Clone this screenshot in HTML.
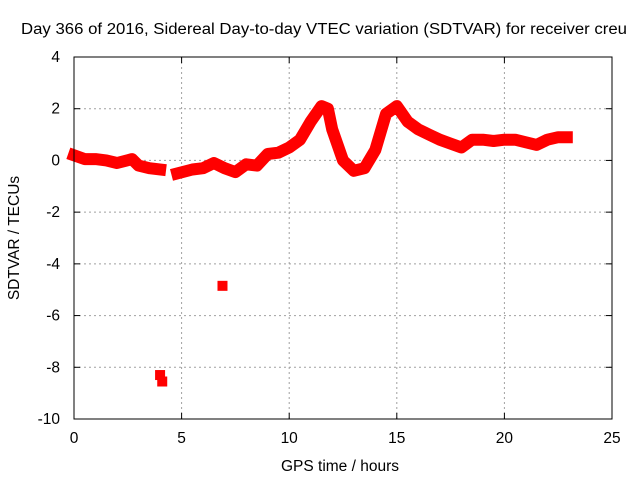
<!DOCTYPE html>
<html><head><meta charset="utf-8"><style>
body{margin:0;background:#fff}
svg{font-family:"Liberation Sans",sans-serif;font-size:15.5px}
</style></head><body>
<svg id="c" width="640" height="480"></svg>
<script>
const xTicks=[0,5,10,15,20,25];
const yTicks=[4,2,0,-2,-4,-6,-8,-10];
const seg1Hours=[0,0.5,1,1.5,2,2.7,3,3.5,4];
const seg1Vals=[0.2,0.05,0.05,0.0,-0.1,0.05,-0.2,-0.3,-0.35];
const seg2Hours=[4.8,5.5,6,6.5,7,7.5,8,8.5,9,9.5,10,10.5,11,11.5,11.8,12,12.5,13,13.5,14,14.5,15,15.5,16,16.5,17,17.5,18,18.5,19,19.5,20,20.5,21,21.5,22,22.5,22.9];
const seg2Vals=[-0.5,-0.35,-0.3,-0.1,-0.3,-0.45,-0.15,-0.2,0.25,0.3,0.5,0.8,1.5,2.1,2.0,1.2,0.0,-0.4,-0.3,0.4,1.8,2.1,1.5,1.2,1.0,0.8,0.65,0.5,0.8,0.8,0.75,0.8,0.8,0.7,0.6,0.8,0.9,0.9];
const blobHours=[6.9,4.0,4.1];
const blobVals=[-4.85,-8.3,-8.55];
const L=74,R=612,T=57,B=419;
const sx=h=>L+(h-0)/(25-0)*(R-L);
const sy=v=>T+(4-v)/(4-(-10))*(B-T);
const svg=document.getElementById('c');
const NS='http://www.w3.org/2000/svg';
function mk(t,a,txt){const e=document.createElementNS(NS,t);for(const k in a)e.setAttribute(k,a[k]);if(txt!==undefined)e.textContent=txt;svg.appendChild(e);return e;}
xTicks.forEach(t=>{const x=sx(t);
 if(t>0&&t<25){const g=mk('line',{x1:x,x2:x,y1:T,y2:B,stroke:'#a0a0a0','stroke-dasharray':'2,3'});
 
 }
 const tk=mk('line',{x1:x,x2:x,y1:B,y2:B-6,stroke:'#000'});
 
 
 const tk2=mk('line',{x1:x,x2:x,y1:T,y2:T+6,stroke:'#000'});
 
 
 const l=mk('text',{x:x,y:B+24,'text-anchor':'middle'},String(t));
 
 });
yTicks.forEach(t=>{const y=sy(t);
 if(t<4&&t>-10){const g=mk('line',{x1:L,x2:R,y1:y,y2:y,stroke:'#a0a0a0','stroke-dasharray':'2,3'});
 
 }
 const tk=mk('line',{x1:L,x2:L+6,y1:y,y2:y,stroke:'#000'});
 
 
 const tk2=mk('line',{x1:R,x2:R-6,y1:y,y2:y,stroke:'#000'});
 
 
 const l=mk('text',{x:L-14,y:y+5,'text-anchor':'end'},String(t));
 
 });
function seg(hs,vs,name){const p=hs.map((h,i)=>sx(h).toFixed(1)+','+sy(vs[i]).toFixed(1)).join(' ');
 const e=mk('polyline',{points:p,fill:'none',stroke:'#ff0000','stroke-width':12,'stroke-linejoin':'round','stroke-linecap':'square'});
 
 }
seg(seg1Hours,seg1Vals,'sdtvar-series-part1');
seg(seg2Hours,seg2Vals,'sdtvar-series-part2');
blobHours.forEach((h,i)=>{const e=mk('rect',{x:sx(h)-5,y:sy(blobVals[i])-5,width:10,height:10,fill:'#ff0000'});
 
 });
const f=mk('rect',{x:L,y:T,width:R-L,height:B-T,fill:'none',stroke:'#000'});


const ti=mk('text',{x:324,y:34,'text-anchor':'middle',textLength:606,lengthAdjust:'spacingAndGlyphs'},'Day 366 of 2016, Sidereal Day-to-day VTEC variation (SDTVAR) for receiver creu');


const xl=mk('text',{x:340,y:471,'text-anchor':'middle'},'GPS time / hours');


const yl=mk('text',{x:0,y:0,'text-anchor':'middle',transform:'translate(19,238) rotate(-90)'},'SDTVAR / TECUs');


</script>
</body></html>
